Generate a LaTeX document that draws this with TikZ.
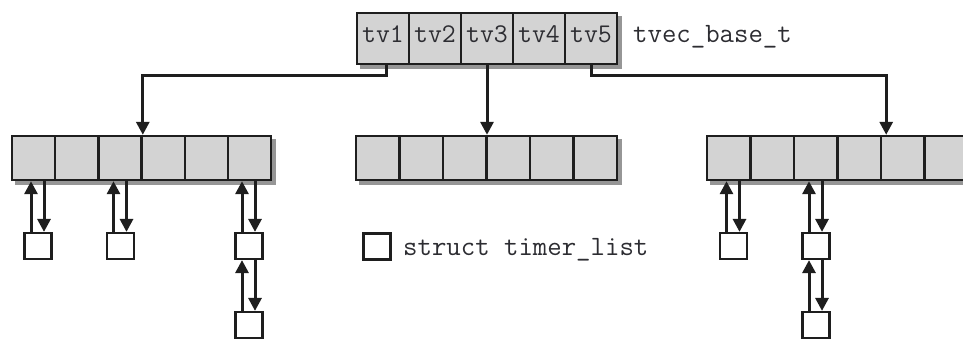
\documentclass[tikz,border=0pt]{standalone}
\usetikzlibrary{arrows.meta,backgrounds}
\definecolor{cellgrey}{RGB}{211,211,211}
\definecolor{shadowgrey}{RGB}{150,150,150}
\definecolor{ink}{RGB}{30,30,30}
\definecolor{textink}{RGB}{45,45,50}
\begin{document}
\begin{tikzpicture}[x=1pt,y=-1pt,
  cell/.style={draw=ink, fill=cellgrey, line width=2.4pt, inner sep=0pt,
    minimum width=43.5pt, minimum height=44pt},
  topcell/.style={cell, minimum width=52pt, minimum height=51pt,
    font=\ttfamily\fontsize{27}{27}\selectfont, text=textink,
    text height=7pt, text depth=0pt},
  item/.style={draw=ink, fill=white, line width=2.2pt, inner sep=0pt,
    minimum width=27pt, minimum height=26pt},
  conn/.style={draw=ink, line width=3pt, -{Triangle[length=13pt,width=13pt]}},
  caption/.style={anchor=base west, inner sep=0pt, text=textink,
    font=\ttfamily\fontsize{28}{28}\selectfont}]
\clip (0,0) rectangle (963,343);

% tvec_base_t with its five vectors
\foreach \i in {1,...,5}
  \node[topcell] (tv\i) at ({357+52*\i-26},38.5) {tv\i};
\node[caption] (base) at (633,42) {tvec\_base\_t};

% the three bucket arrays
\foreach \i in {1,...,6} {
  \node[cell, minimum width=43.2pt] (l\i) at ({12+43.2*\i-21.6},158) {};
  \node[cell] (m\i) at ({356+43.5*\i-21.75},158) {};
  \node[cell] (r\i) at ({707+43.5*\i-21.75},158) {};
}

% drop shadows
\begin{scope}[on background layer]
  \foreach \a/\b in {tv1/tv5, l1/l6, m1/m6, r1/r6}
    \fill[shadowgrey] ([shift={(4,4)}]\a.north west) rectangle ([shift={(4,4)}]\b.south east);
\end{scope}

% pointers from the vectors to the arrays
\draw[conn] ([xshift=3pt]tv1.south) -- ++(0,10) -| (l3.north east);
\draw[conn] (tv3.south) -- (tv3.south |- m1.north);
\draw[conn] (tv5.south) -- ++(0,10) -| ([xshift=4pt]r4.north east);

% timer_list entries
\node[item] (la) at (38,246) {};
\node[item] (lb) at (120.5,246) {};
\node[item] (lc) at (249,246) {};
\node[item] (ld) at (249,325) {};
\node[item] (ra) at (733.5,246) {};
\node[item] (rb) at (816,246) {};
\node[item] (rc) at (816,325) {};

% legend
\node[item] (lg) at (377,246.5) {};
\node[caption] (legtext) at (403,255) {struct timer\_list};

% doubly linked list pointers: up on the left, down on the right
\foreach \e/\t in {la/l1, lb/l3, lc/l6, ld/lc, ra/r1, rb/r3, rc/rb} {
  \draw[conn] ([xshift=-7pt]\e.north) -- ([xshift=-7pt]\e.north |- \t.south);
  \draw[conn] ([xshift=6pt]\e.north |- \t.south) -- ([xshift=6pt]\e.north);
}
\end{tikzpicture}
\end{document}
